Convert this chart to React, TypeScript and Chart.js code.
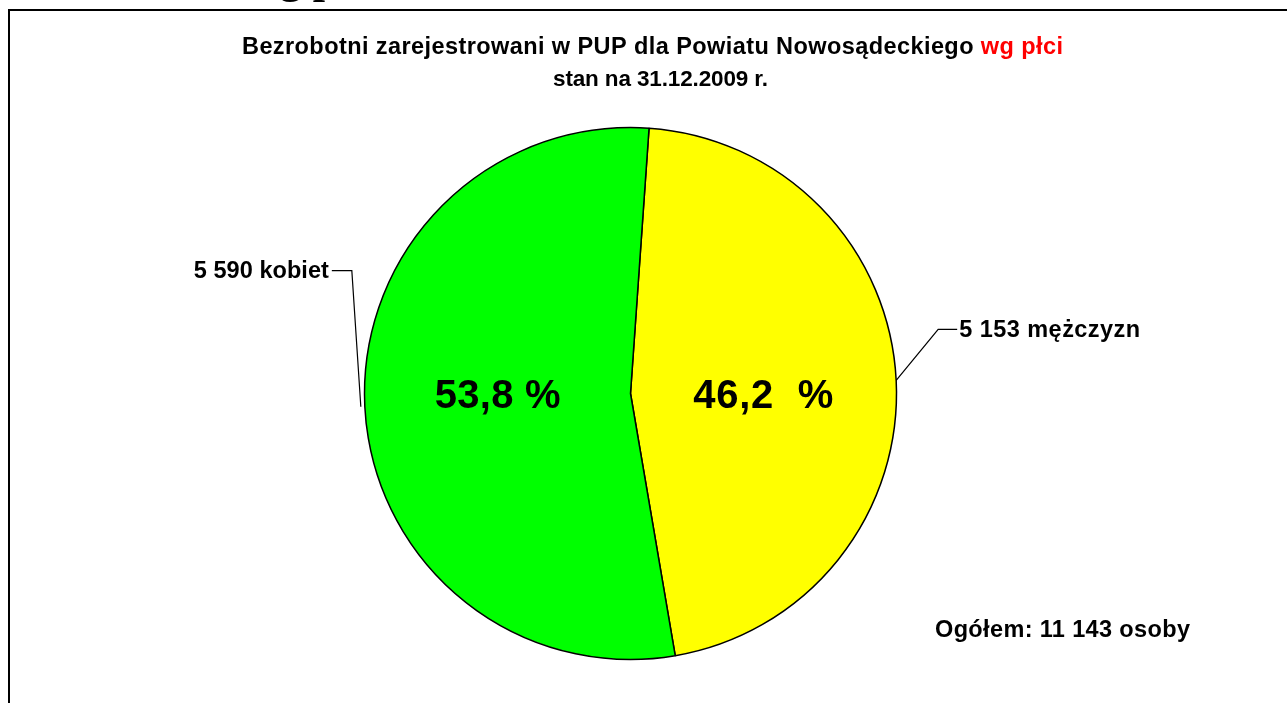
import React, { useEffect, useRef } from "react";
import { Chart, registerables } from "chart.js";

Chart.register(...registerables);

const categories = ["5 153 mężczyzn", "5 590 kobiet"];
const counts = [5153, 5590];
const shares = [46.2, 53.8];
const pctLabels = ["46,2  %", "53,8 %"];
const colors = ["#FFFF00", "#00FF00"];
const titleBlack = "Bezrobotni zarejestrowani w PUP dla Powiatu Nowosądeckiego ";
const titleRed = "wg płci";
const subtitle = "stan na 31.12.2009 r.";
const totalLabel = "Ogółem: 11 143 osoby";
const cutHeading = "wg płci";

const W = 1287;
const H = 703;
const SANS = '"Liberation Sans", Arial, sans-serif';

function spacedText(ctx: CanvasRenderingContext2D, text: string, x: number, y: number, target: number, align: "left" | "right" | "center") {
  (ctx as any).letterSpacing = "0px";
  const w = ctx.measureText(text).width;
  const ls = (target - w) / Math.max(text.length - 1, 1);
  (ctx as any).letterSpacing = ls + "px";
  const full = w + ls * (text.length - 1);
  let sx = x;
  if (align === "right") sx = x - full;
  if (align === "center") sx = x - full / 2;
  ctx.textAlign = "left";
  ctx.fillText(text, sx, y);
  (ctx as any).letterSpacing = "0px";
  return { ls, full };
}

const overlay = {
  id: "overlay",
  afterDraw(chart: any) {
    const ctx: CanvasRenderingContext2D = chart.ctx;
    ctx.save();
    ctx.textBaseline = "alphabetic";

    // cut-off heading above frame
    ctx.fillStyle = "#000";
    ctx.font = 'bold 44px "Liberation Serif", "Times New Roman", serif';
    ctx.textAlign = "left";
    ctx.fillText(cutHeading, 248, -7.5);

    // frame
    ctx.strokeStyle = "#000";
    ctx.lineWidth = 2;
    ctx.strokeRect(9, 10, W + 50, H + 50);

    // title
    ctx.font = "bold 23.5px " + SANS;
    (ctx as any).letterSpacing = "0px";
    const wb = ctx.measureText(titleBlack).width;
    const wr = ctx.measureText(titleRed).width;
    const totalChars = titleBlack.length + titleRed.length;
    const ls = (821 - wb - wr) / (totalChars - 1);
    (ctx as any).letterSpacing = ls + "px";
    ctx.fillStyle = "#000";
    ctx.fillText(titleBlack, 242, 54);
    const off = wb + ls * titleBlack.length;
    ctx.fillStyle = "#FF0000";
    ctx.fillText(titleRed, 242 + off, 54);
    (ctx as any).letterSpacing = "0px";
    ctx.fillStyle = "#000";
    ctx.font = "bold 22.5px " + SANS;
    spacedText(ctx, subtitle, 553, 86, 215, "left");

    const meta = chart.getDatasetMeta(0);
    const arcs = meta.data;

    // percentage labels
    ctx.font = "bold 40px " + SANS;
    arcs.forEach((arc: any, i: number) => {
      const mid = (arc.startAngle + arc.endAngle) / 2;
      const r = arc.outerRadius * 0.5;
      const px = arc.x + Math.cos(mid) * r;
      const py = arc.y;
      const target = i === 0 ? 140 : 126;
      spacedText(ctx, pctLabels[i], px, py + 14, target, "center");
    });

    // leader lines + category labels
    ctx.font = "bold 23.5px " + SANS;
    ctx.lineWidth = 1.2;
    ctx.strokeStyle = "#000";
    arcs.forEach((arc: any, i: number) => {
      const mid = (arc.startAngle + arc.endAngle) / 2;
      const ex = arc.x + Math.cos(mid) * arc.outerRadius;
      const ey = arc.y + Math.sin(mid) * arc.outerRadius;
      ctx.beginPath();
      if (i === 0) {
        ctx.moveTo(ex, ey);
        ctx.lineTo(ex + 42, ey - 51);
        ctx.lineTo(ex + 61, ey - 51);
        ctx.stroke();
        spacedText(ctx, categories[i], ex + 63, ey - 43, 181, "left");
      } else {
        ctx.moveTo(ex - 4, ey);
        ctx.lineTo(ex - 13, ey - 136);
        ctx.lineTo(ex - 33, ey - 136);
        ctx.stroke();
        spacedText(ctx, categories[i], ex - 36, ey - 129, 135, "right");
      }
    });

    // total
    spacedText(ctx, totalLabel, 935, 637, 255, "left");

    ctx.restore();
  },
};

export default function App() {
  const ref = useRef<HTMLCanvasElement | null>(null);
  useEffect(() => {
    if (!ref.current) return;
    const chart = new Chart(ref.current, {
      type: "pie",
      data: {
        labels: categories,
        datasets: [
          {
            data: shares,
            backgroundColor: colors,
            borderColor: "#000",
            borderWidth: 1.5,
            radius: 266,
          } as any,
        ],
      },
      options: {
        responsive: false,
        animation: false,
        rotation: 4,
        layout: { padding: { left: 360.5, right: 386.5, top: 123.5, bottom: 39.5 } },
        plugins: { legend: { display: false }, tooltip: { enabled: false } },
      },
      plugins: [overlay],
    });
    return () => chart.destroy();
  }, []);
  return (
    <div style={{ position: "fixed", left: 0, top: 0, width: W, height: H, background: "#fff" }}>
      <canvas ref={ref} width={W} height={H} style={{ display: "block" }} />
    </div>
  );
}
